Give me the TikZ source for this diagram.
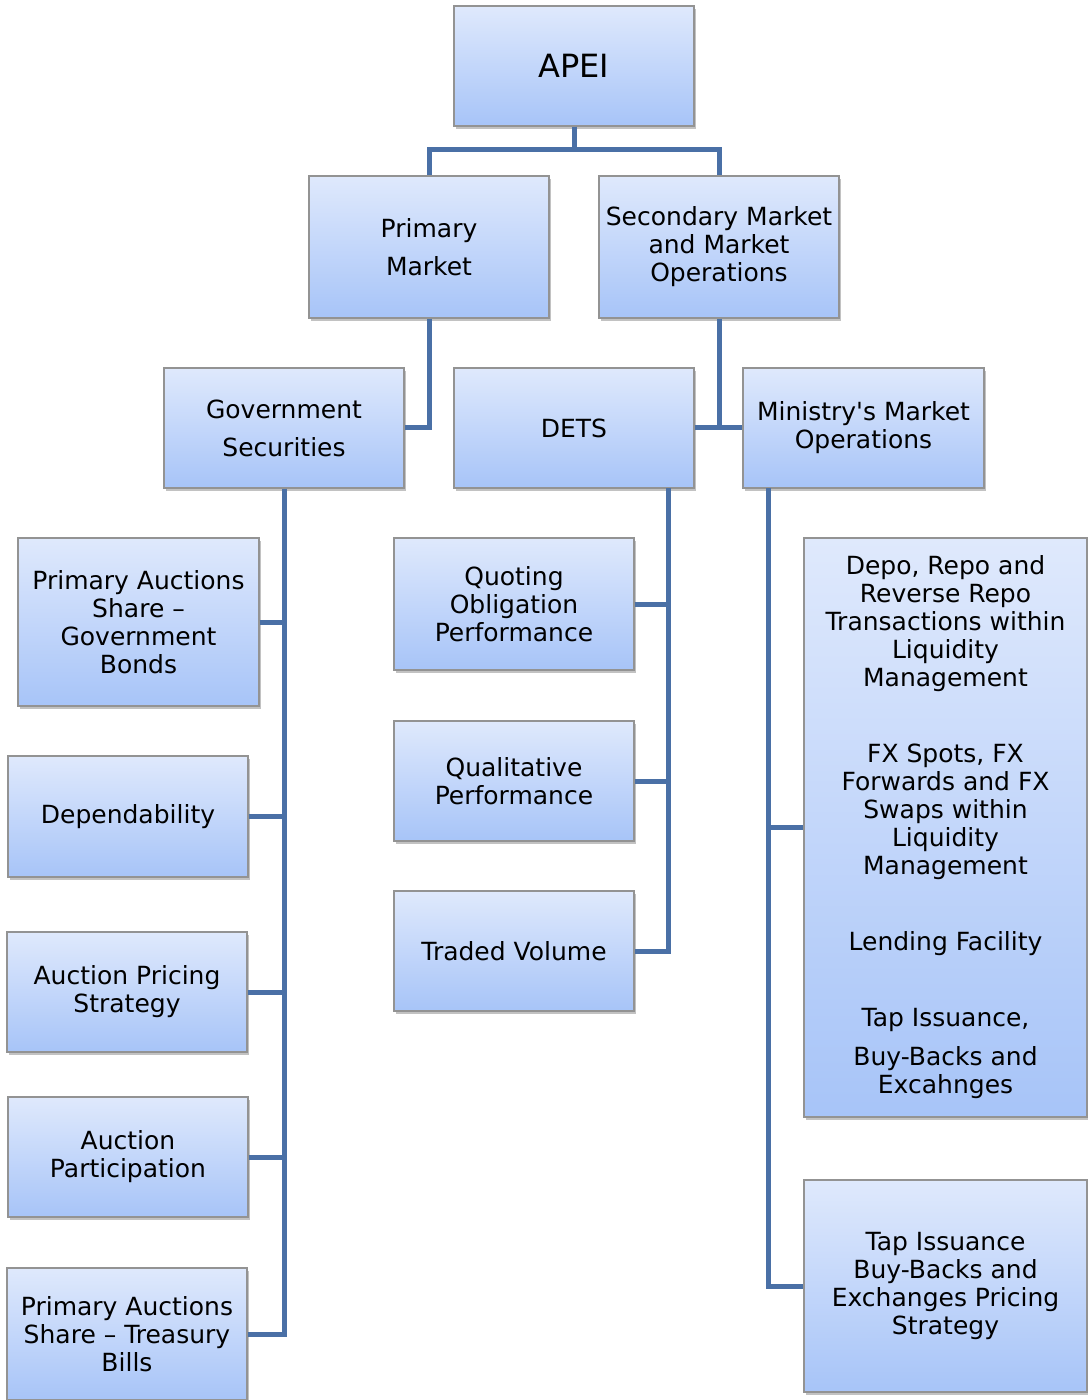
\documentclass[tikz,border=0pt]{standalone}
\usepackage{fontspec}
\setmainfont{DejaVu Sans}
\usetikzlibrary{shadows}
\definecolor{boxtop}{HTML}{DFE9FC}
\definecolor{boxbot}{HTML}{A7C4F8}
\definecolor{linkblue}{HTML}{4A70A6}

\tikzset{
  box/.style={draw=gray!85, line width=0.6pt, top color=boxtop, bottom color=boxbot,
    drop shadow={shadow xshift=1pt, shadow yshift=-1.5pt, fill=gray!80, opacity=0.6},
    align=center, inner sep=2pt, minimum width=120pt, minimum height=60pt,
    font=\fontsize{12.5}{14}\selectfont},
  link/.style={draw=linkblue, line width=2.5pt}
}

\begin{document}
\begin{tikzpicture}[x=0.5pt,y=-0.5pt]
  \useasboundingbox (0,0) rectangle (1087,1400);

  % top levels
  \node[box, font=\fontsize{16}{18}\selectfont] (apei) at (574,66) {APEI};
  \node[box, minimum height=71pt] (prim) at (429,247) {Primary\\[5pt]Market};
  \node[box, minimum height=71pt] (sec) at (719,247) {Secondary Market\\and Market\\Operations};
  \node[box] (gov) at (284,428) {Government\\[5pt]Securities};
  \node[box] (dets) at (574,428) {DETS};
  \node[box, minimum width=120.5pt] (min) at (863.5,428) {Ministry\textquotesingle s Market\\Operations};

  % government securities branch
  \node[box, minimum width=120.5pt, minimum height=84pt] (pags) at (138.5,622) {Primary Auctions\\Share --\\Government\\Bonds};
  \node[box, minimum height=60.5pt] (dep) at (128,816.5) {Dependability};
  \node[box] (aps) at (127,992) {Auction Pricing\\Strategy};
  \node[box] (apart) at (128,1157) {Auction\\Participation};
  \node[box, minimum height=66pt] (pats) at (127,1334) {Primary Auctions\\Share -- Treasury\\Bills};

  % DETS branch
  \node[box, minimum height=66pt] (qop) at (514,604) {Quoting\\Obligation\\Performance};
  \node[box] (qual) at (514,781) {Qualitative\\Performance};
  \node[box] (tv) at (514,951) {Traded Volume};

  % ministry branch
  \node[box, minimum width=141.5pt, minimum height=289.5pt] (liq) at (945.5,827.5)
    {Depo, Repo and\\Reverse Repo\\Transactions within\\Liquidity\\Management\\[24pt]
     FX Spots, FX\\Forwards and FX\\Swaps within\\Liquidity\\Management\\[24pt]
     Lending Facility\\[24pt]
     Tap Issuance,\\[5.5pt]Buy-Backs and\\Excahnges};
  \node[box, minimum width=141.5pt, minimum height=106pt] (tap) at (945.5,1286)
    {Tap Issuance\\Buy-Backs and\\Exchanges Pricing\\Strategy};

  \coordinate (dtrunk) at (668,488);
  \coordinate (mtrunk) at (768,488);

  % connectors
  \draw[link] (apei.south) -- ++(0,23) -| (prim.north);
  \draw[link] (apei.south) -- ++(0,23) -| (sec.north);
  \draw[link] (prim.south) |- (gov.east);
  \draw[link] (sec.south) -- (sec.south |- dets.east);
  \draw[link] (dets.east) -- (min.west);

  \draw[link] (gov.south) |- (pats.east);
  \foreach \n in {pags,dep,aps,apart}
    \draw[link] (\n.east) -- (\n.east -| gov.south);

  \draw[link] (dtrunk) |- (tv.east);
  \foreach \n in {qop,qual}
    \draw[link] (\n.east) -- (\n.east -| dtrunk);

  \draw[link] (mtrunk) |- (tap.west);
  \draw[link] (mtrunk |- liq.west) -- (liq.west);
\end{tikzpicture}
\end{document}
